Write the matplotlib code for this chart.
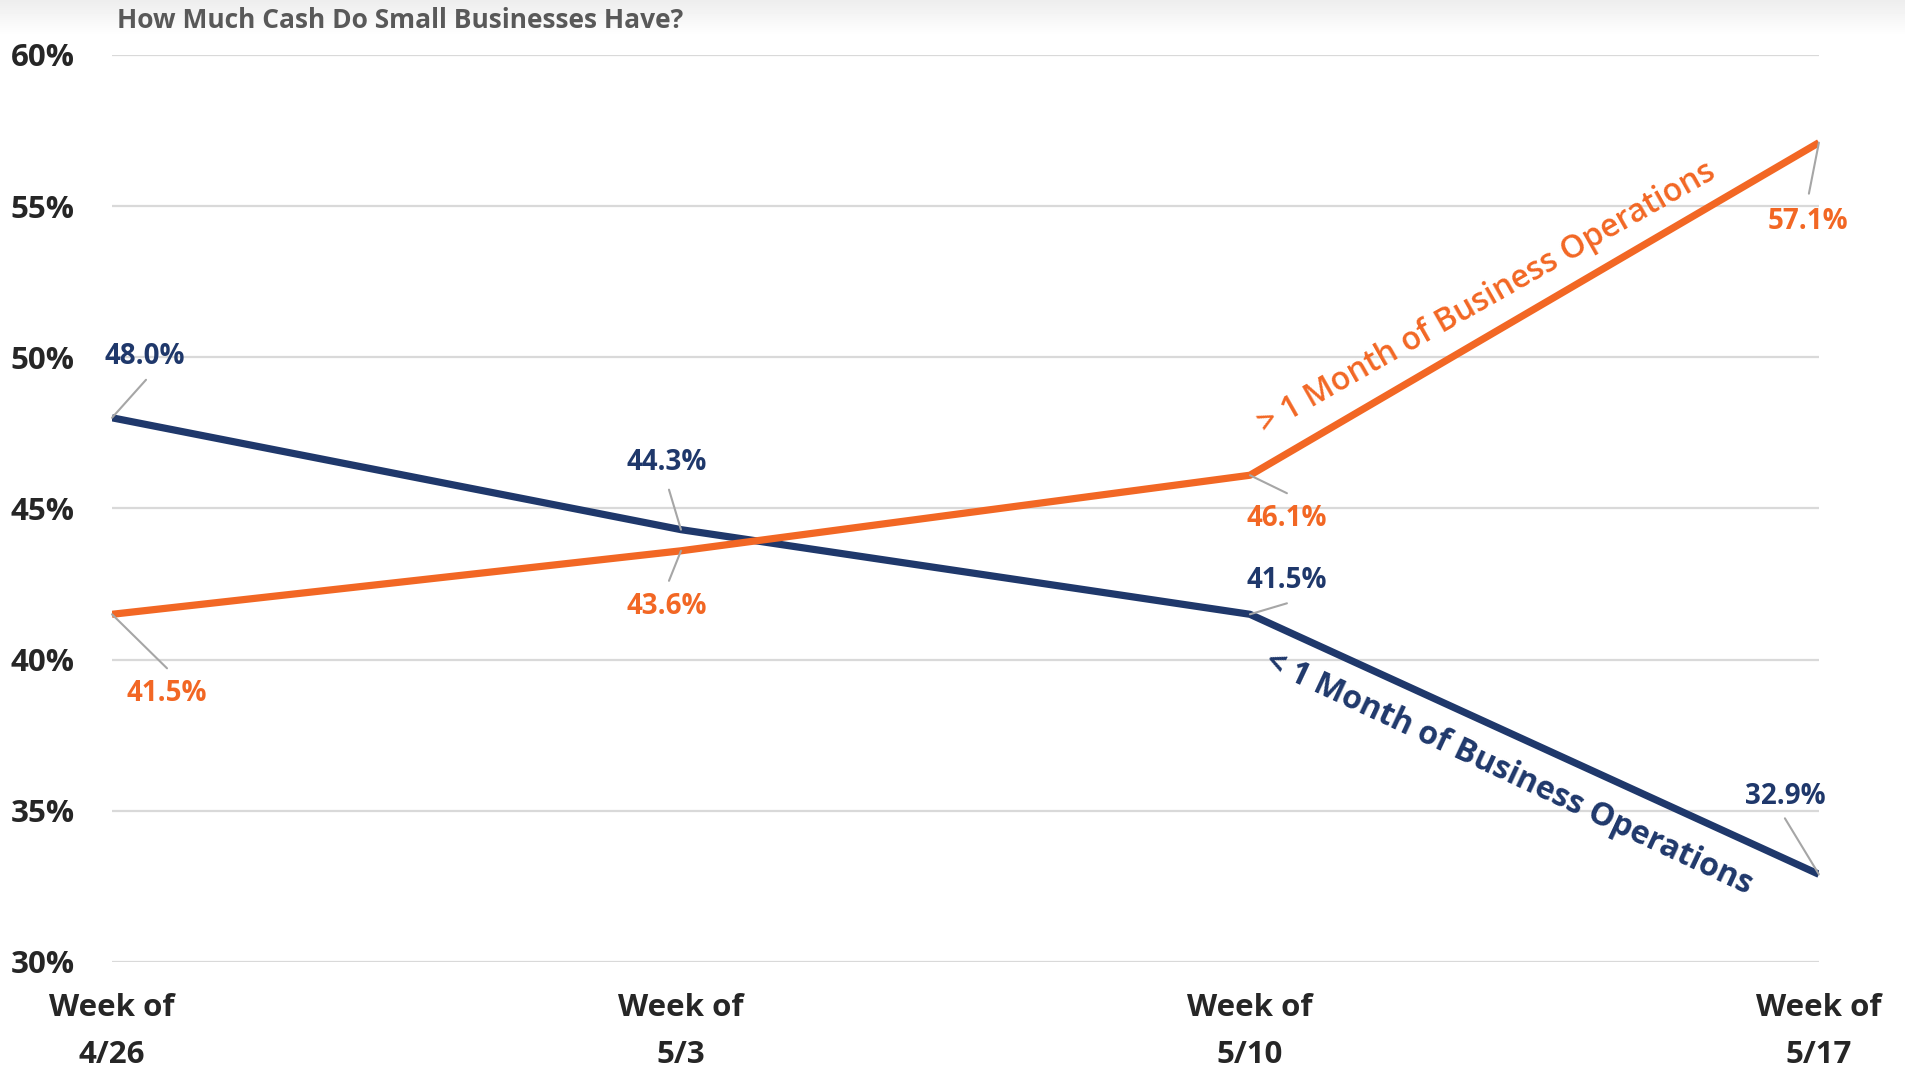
import numpy as np
import matplotlib.pyplot as plt
import matplotlib as mpl

mpl.rcParams['font.family'] = ['Open Sans', 'DejaVu Sans']

# --------------------------------------------------------------
# Data
weeks = ['Week of\n4/26', 'Week of\n5/3', 'Week of\n5/10', 'Week of\n5/17']
less_than_month = [48.0, 44.3, 41.5, 32.9]
more_than_month = [41.5, 43.6, 46.1, 57.1]

navy = '#1F386B'
orange = '#F26724'

# label / leader offsets in pixels from each point
navy_leader = [(34, 38), (-12, 40), (37, 11), (-34, 56)]
navy_label = [(33, 61), (-14, 67), (37, 34), (-34, 78)]
orange_leader = [(55, -54), (-12, -30), (37, -18), (-10, -51)]
orange_label = [(55, -79), (-14, -56), (37, -43), (-11, -79)]

# --------------------------------------------------------------
# Figure
W, H = 1905, 1074
fig = plt.figure(figsize=(W / 100, H / 100), dpi=100)

# soft grey band across the top
bg = fig.add_axes([0, 0, 1, 1], zorder=-10)
shade = np.ones((H, 1))
shade[:36, 0] = np.linspace(0.93, 1.0, 36)
bg.imshow(shade, cmap='gray', vmin=0, vmax=1, aspect='auto', extent=[0, 1, 0, 1])
bg.axis('off')

ax = fig.add_axes([0.0588, 0.1043, 0.8960, 0.8445])
ax.patch.set_alpha(0)
x = np.arange(len(weeks))

ax.plot(x, less_than_month, color=navy, lw=5.2, solid_capstyle='butt', zorder=3)
ax.plot(x, more_than_month, color=orange, lw=5.2, solid_capstyle='butt', zorder=3)

ax.set_xlim(0, 3)
ax.set_ylim(30, 60)
ax.set_yticks(range(30, 61, 5))
ax.set_yticklabels([f'{v}%' for v in range(30, 61, 5)])
ax.set_xticks(x)
ax.set_xticklabels(weeks)
ax.tick_params(axis='y', length=0, pad=27, labelsize=22.5, labelcolor='#262626')
ax.tick_params(axis='x', length=0, pad=22, labelsize=22.5, labelcolor='#262626')
for lbl in ax.get_xticklabels():
    lbl.set_linespacing(1.75)
for lbl in ax.get_xticklabels() + ax.get_yticklabels():
    lbl.set_fontweight('bold')
ax.grid(axis='y', color='#D9D9D9', lw=1.6, zorder=0)
ax.set_axisbelow(True)
for s in ax.spines.values():
    s.set_visible(False)

# data labels with leader lines
def label_series(vals, leaders, labels, color):
    for i, v in enumerate(vals):
        ax.annotate('', xy=(i, v), xytext=leaders[i], textcoords='offset pixels',
                    arrowprops=dict(arrowstyle='-', color='#A6A6A6', lw=1.5,
                                    shrinkA=0, shrinkB=0), zorder=4)
        ax.annotate(f'{v:.1f}%', xy=(i, v), xytext=labels[i], textcoords='offset pixels',
                    ha='center', va='center', fontsize=20, fontweight='bold',
                    color=color, zorder=5)

label_series(less_than_month, navy_leader, navy_label, navy)
label_series(more_than_month, orange_leader, orange_label, orange)

# series names along the last segment
ax.text(2.417, 51.96, '> 1 Month of Business Operations', rotation=29.6,
        ha='center', va='center', fontsize=23, fontweight='semibold', color=orange,
        rotation_mode='anchor')
ax.text(2.455, 36.25, '< 1 Month of Business Operations', rotation=-25.1,
        ha='center', va='center', fontsize=23, fontweight='bold', color=navy,
        rotation_mode='anchor')

fig.text(117 / W, 1 - 20 / H, 'How Much Cash Do Small Businesses Have?',
         ha='left', va='center', fontsize=19, fontweight='bold', color='#595959')

fig.savefig('out.png', dpi=100)
